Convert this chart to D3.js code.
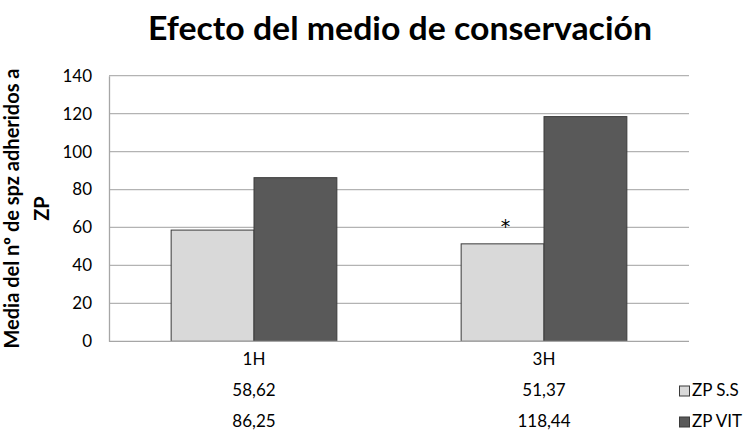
<!DOCTYPE html>
<html>
<head>
<meta charset="utf-8">
<script src="https://cdn.jsdelivr.net/npm/d3@7"></script>
<style>
  body { margin: 0; background: #fff; }
  text { font-family: Lato, "Open Sans", sans-serif; fill: #000; }
</style>
</head>
<body>
<svg id="chart"></svg>
<script>
var categories = ["1H", "3H"];
var seriesNames = ["ZP S.S", "ZP VIT"];
var ssValues = [58.62, 51.37];
var vitValues = [86.25, 118.44];
var ssLabels = ["58,62", "51,37"];
var vitLabels = ["86,25", "118,44"];
var yTicks = [0, 20, 40, 60, 80, 100, 120, 140];
var marks = ["", "*"]; // significance mark over ZP S.S

var colors = ["#d9d9d9", "#595959"];

var screen = {width: 752, height: 432};
var plot = {left: 109, right: 689, top: 75.7, bottom: 341.3};

var svg = d3.select("#chart")
    .attr("width", screen.width)
    .attr("height", screen.height);

var x = d3.scaleBand()
    .domain(categories)
    .range([plot.left, plot.right])
    .paddingInner(0)
    .paddingOuter(0);

var barW = x.bandwidth() / 3.5;   // gap width 150%

var xs = d3.scaleBand()
    .domain(seriesNames)
    .range([barW * 0.75, barW * 0.75 + barW * 2]);

var y = d3.scaleLinear()
    .domain([0, 140])
    .range([plot.bottom, plot.top]);

// gridlines
svg.append("g")
    .selectAll("line")
    .data(yTicks.slice(1))
    .enter()
    .append("line")
    .attr("x1", plot.left)
    .attr("x2", plot.right)
    .attr("y1", function(d) { return y(d); })
    .attr("y2", function(d) { return y(d); })
    .attr("stroke", "#b3b3b3")
    .attr("stroke-width", 1.3);

// y axis
var yAxis = d3.axisLeft(y)
    .tickValues(yTicks)
    .tickSize(0)
    .tickPadding(17);

var gy = svg.append("g")
    .attr("transform", "translate(" + plot.left + ",0)")
    .call(yAxis);
gy.select(".domain").attr("stroke", "#a6a6a6").attr("stroke-width", 1.3);
gy.selectAll("text")
    .attr("font-size", 17)
    .attr("fill", "#000");

// bars
var groups = svg.append("g")
    .selectAll("g")
    .data(categories)
    .enter()
    .append("g")
    .attr("transform", function(d) { return "translate(" + x(d) + ",0)"; });

groups.selectAll("rect")
    .data(function(d, i) {
        return [
            {name: seriesNames[0], value: ssValues[i], color: colors[0]},
            {name: seriesNames[1], value: vitValues[i], color: colors[1]}
        ];
    })
    .enter()
    .append("rect")
    .attr("x", function(d) { return xs(d.name); })
    .attr("width", xs.bandwidth())
    .attr("y", function(d) { return y(d.value); })
    .attr("height", function(d) { return plot.bottom - y(d.value); })
    .attr("fill", function(d) { return d.color; })
    .attr("stroke", "#3a3a3a")
    .attr("stroke-width", 1);

// x axis line
svg.append("line")
    .attr("x1", plot.left)
    .attr("x2", plot.right)
    .attr("y1", plot.bottom)
    .attr("y2", plot.bottom)
    .attr("stroke", "#a6a6a6")
    .attr("stroke-width", 1.3);

// significance mark
svg.append("g")
    .selectAll("text")
    .data(categories)
    .enter()
    .append("text")
    .attr("x", function(d) { return x(d) + xs(seriesNames[0]) + xs.bandwidth() / 2 + 3; })
    .attr("y", function(d, i) { return y(ssValues[i]) - 11; })
    .attr("text-anchor", "middle")
    .style("font-family", "'DejaVu Sans', sans-serif")
    .style("font-size", "19px")
    .text(function(d, i) { return marks[i]; });

// data table
var rows = [categories, ssLabels, vitLabels];
var rowY = [365, 396, 427];
rows.forEach(function(row, r) {
    svg.append("g")
        .selectAll("text")
        .data(row)
        .enter()
        .append("text")
        .attr("x", function(d, i) { return x(categories[i]) + x.bandwidth() / 2; })
        .attr("y", rowY[r])
        .attr("text-anchor", "middle")
        .attr("font-size", 17)
        .text(function(d) { return d; });
});

// legend keys
seriesNames.forEach(function(name, i) {
    svg.append("rect")
        .attr("x", 679.5)
        .attr("y", rowY[i + 1] - 10)
        .attr("width", 10)
        .attr("height", 10)
        .attr("fill", colors[i])
        .attr("stroke", "#3a3a3a")
        .attr("stroke-width", 1);
    svg.append("text")
        .attr("x", 692)
        .attr("y", rowY[i + 1])
        .attr("font-size", 17)
        .text(name);
});

// title
svg.append("text")
    .attr("x", 400)
    .attr("y", 40)
    .attr("text-anchor", "middle")
    .attr("font-size", 32)
    .attr("font-weight", "bold")
    .attr("textLength", 504)
    .attr("lengthAdjust", "spacingAndGlyphs")
    .text("Efecto del medio de conservación");

// y axis title
var ty = svg.append("text")
    .attr("transform", "translate(0," + ((plot.top + plot.bottom) / 2) + ") rotate(-90)")
    .attr("text-anchor", "middle")
    .attr("font-size", 20)
    .attr("font-weight", "bold");
ty.append("tspan").attr("x", 0).attr("y", 19).text("Media del nº de spz adheridos a");
ty.append("tspan").attr("x", 0).attr("y", 49).text("ZP");
</script>
</body>
</html>
